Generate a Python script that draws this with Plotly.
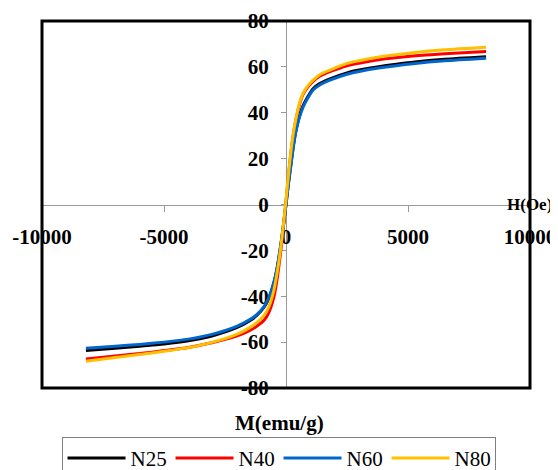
import plotly.graph_objects as go

# Field values (Oe)
H = [-8200, -7000, -6000, -5000, -4000, -3000, -2000, -1500, -1200, -900, -700, -500,
     -400, -300, -200, -100, 0, 100, 200, 300, 400, 550, 700, 900, 1100, 1400, 1800,
     2500, 3000, 3800, 5200, 6500, 8200]

# Magnetization (emu/g)
N25 = [-63.6, -62.7, -61.8, -60.8, -59.4, -57.2, -53.6, -50.8, -48.4, -44.8, -40.8, -34.3,
       -29.8, -23.8, -16.8, -8.7, 0.0, 9.2, 17.5, 25.5, 32.0, 38.6, 43.1, 47.1, 50.4, 52.8, 54.8,
       57.4, 58.6, 60.1, 62.0, 63.3, 64.4]
N40 = [-67.3, -66.0, -65.0, -63.7, -62.3, -60.2, -57.3, -55.0, -53.1, -50.5, -47.0, -40.5,
       -35.0, -27.5, -19.0, -9.0, 1.5, 12.5, 22.5, 30.5, 36.5, 43.5, 48.0, 51.3, 53.6, 56.0, 57.9,
       60.5, 61.6, 63.1, 64.7, 65.7, 66.7]
N60 = [-62.7, -61.8, -61.0, -60.0, -58.7, -56.5, -53.0, -50.3, -48.0, -44.5, -40.5, -34.0,
       -29.5, -23.5, -16.5, -8.5, 0.0, 9.0, 17.0, 25.0, 31.5, 38.0, 42.5, 46.5, 49.8, 52.2, 54.2,
       56.8, 58.0, 59.5, 61.4, 62.7, 63.8]
N80 = [-68.3, -66.7, -65.4, -64.0, -62.4, -60.0, -56.5, -53.8, -51.5, -48.3, -44.5, -37.5,
       -32.0, -25.5, -17.6, -8.0, 2.0, 13.0, 23.0, 31.0, 37.0, 44.0, 48.5, 51.8, 54.1, 56.7, 58.6,
       61.5, 62.7, 64.3, 66.2, 67.5, 68.6]

series_names = ["N25", "N40", "N60", "N80"]
series_values = [N25, N40, N60, N80]
series_colors = ["#000000", "#FF0000", "#0066CC", "#FFC000"]

x_ticks = [-10000, -5000, 0, 5000, 10000]
x_ticklabels = ["-10000", "-5000", "0", "5000", "10000"]
y_ticks = [-80, -60, -40, -20, 0, 20, 40, 60, 80]
y_ticklabels = ["-80", "-60", "-40", "-20", "0", "20", "40", "60", "80"]

SERIF = "Liberation Serif"

fig = go.Figure()
for name, vals, col in zip(series_names, series_values, series_colors):
    fig.add_trace(go.Scatter(x=H, y=vals, mode="lines", name=name,
                             line=dict(color=col, width=3, shape="spline", smoothing=0.6)))

# The page body adds an 8px offset, so the figure is 8px smaller in each direction
fig.update_layout(
    width=550, height=462,
    margin=dict(l=34, r=28, t=13, b=82, autoexpand=False),
    paper_bgcolor="white", plot_bgcolor="white",
    showlegend=True,
    legend=dict(orientation="h", x=0.04, xanchor="left", y=-0.133, yanchor="top",
                bordercolor="#7f7f7f", borderwidth=1, bgcolor="white",
                font=dict(family=SERIF, size=21, color="black"),
                itemwidth=58, entrywidth=35, traceorder="normal"),
    xaxis=dict(range=[-10000, 10000], tickvals=x_ticks, ticktext=x_ticklabels,
               anchor="free", position=0.5,
               showgrid=False, zeroline=False, showline=True, linecolor="#999999", linewidth=1,
               ticks="outside", ticklen=6, tickcolor="#999999", layer="below traces",
               ticklabelstandoff=7,
               tickfont=dict(family=SERIF, size=21, color="black", weight="bold")),
    yaxis=dict(range=[-80, 80], tickvals=y_ticks, ticktext=y_ticklabels,
               anchor="free", position=0.5,
               showgrid=False, zeroline=False, showline=True, linecolor="#999999", linewidth=1,
               ticks="outside", ticklen=5, tickcolor="#999999", layer="below traces",
               ticklabelstandoff=8,
               tickfont=dict(family=SERIF, size=21, color="black", weight="bold")),
    shapes=[dict(type="rect", xref="paper", yref="paper", x0=0, x1=1, y0=0, y1=1,
                 line=dict(color="black", width=3), layer="above")],
    annotations=[
        dict(text="H(Oe)", xref="paper", yref="paper", x=0.949, y=0.5, xanchor="left",
             yanchor="middle", showarrow=False,
             font=dict(family=SERIF, size=17, color="black", weight="bold")),
        dict(text="M(emu/g)", xref="paper", yref="paper", x=0.4865, y=-0.0954, xanchor="center",
             yanchor="middle", showarrow=False,
             font=dict(family=SERIF, size=21, color="black", weight="bold")),
    ],
)

fig.write_html("out.html")
